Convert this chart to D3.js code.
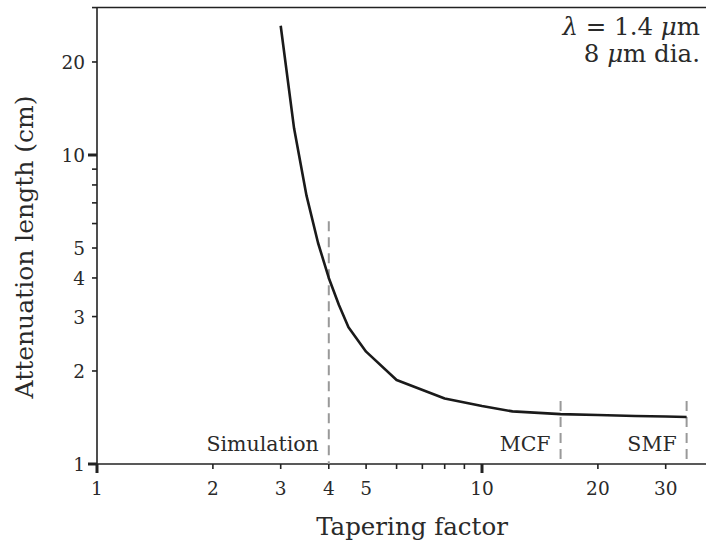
<!DOCTYPE html>
<html>
<head>
<meta charset="utf-8">
<script src="https://cdn.jsdelivr.net/npm/d3@7"></script>
<style>
  body { margin: 0; background: #fff; }
  svg text { font-family: "DejaVu Serif", serif; fill: #2a2a2a; }
</style>
</head>
<body>
<div id="chart"></div>
<script>
// Tapering factor vs attenuation length
const taper = [3, 3.25, 3.5, 3.75, 4, 4.25, 4.5, 5, 6, 8, 10, 12, 16, 20, 25, 30, 34];
const attenuation = [26.2, 12.2, 7.4, 5.2, 4.0, 3.27, 2.77, 2.31, 1.87, 1.63, 1.54, 1.48, 1.45, 1.44, 1.43, 1.425, 1.42];

// Vertical markers
const markerX = [4, 16, 34];
const markerTop = [6.1, 1.6, 1.6];
const markerLabel = ["Simulation", "MCF", "SMF"];

const xTickValues = [1, 2, 3, 4, 5, 6, 7, 8, 9, 10, 20, 30];
const xTickLabels = [1, 2, 3, 4, 5, 10, 20, 30];
const yTickValues = [1, 2, 3, 4, 5, 6, 7, 8, 9, 10, 20, 30];
const yTickLabels = [1, 2, 3, 4, 5, 10, 20];
const majorTicks = [1, 10];

const width = 706, height = 544;

const x = d3.scaleLog().domain([1, 10]).range([97, 482]);
const y = d3.scaleLog().domain([1, 10]).range([464, 155]);
const xEnd = x(40);
const yTop = y(30);

const svg = d3.select("#chart").append("svg")
  .attr("width", width)
  .attr("height", height);

const ink = "#222";

// spines
svg.append("line").attr("x1", x(1)).attr("x2", xEnd).attr("y1", y(1)).attr("y2", y(1))
  .attr("stroke", ink).attr("stroke-width", 1.6);
svg.append("line").attr("x1", x(1)).attr("x2", x(1)).attr("y1", y(1)).attr("y2", yTop)
  .attr("stroke", ink).attr("stroke-width", 1.6);
svg.append("line").attr("x1", x(1)).attr("x2", xEnd).attr("y1", yTop).attr("y2", yTop)
  .attr("stroke", ink).attr("stroke-width", 1.6);

// x ticks
svg.selectAll(".xt").data(xTickValues).enter().append("line")
  .attr("x1", d => x(d)).attr("x2", d => x(d))
  .attr("y1", y(1))
  .attr("y2", d => y(1) + (majorTicks.includes(d) ? 9 : 5))
  .attr("stroke", ink)
  .attr("stroke-width", d => majorTicks.includes(d) ? 3 : 1.6);

svg.selectAll(".xl").data(xTickLabels).enter().append("text")
  .attr("x", d => x(d)).attr("y", 495)
  .attr("text-anchor", "middle")
  .attr("font-size", 18.5)
  .text(d => d);

// y ticks
svg.selectAll(".yt").data(yTickValues).enter().append("line")
  .attr("x1", x(1))
  .attr("x2", d => x(1) - (majorTicks.includes(d) ? 9 : 5))
  .attr("y1", d => y(d)).attr("y2", d => y(d))
  .attr("stroke", ink)
  .attr("stroke-width", d => majorTicks.includes(d) ? 3 : 1.6);

svg.selectAll(".yl").data(yTickLabels).enter().append("text")
  .attr("x", 85).attr("y", d => y(d) + 7)
  .attr("text-anchor", "end")
  .attr("font-size", 18.5)
  .text(d => d);

// axis titles
svg.append("text")
  .attr("x", 412).attr("y", 535)
  .attr("text-anchor", "middle")
  .attr("font-size", 24.5)
  .text("Tapering factor");

svg.append("text")
  .attr("transform", "translate(33,247) rotate(-90)")
  .attr("text-anchor", "middle")
  .attr("font-size", 25)
  .text("Attenuation length (cm)");

// dashed markers
svg.selectAll(".mk").data(markerX).enter().append("line")
  .attr("x1", d => x(d)).attr("x2", d => x(d))
  .attr("y1", (d, i) => y(markerTop[i])).attr("y2", y(1))
  .attr("stroke", "#999")
  .attr("stroke-width", 2)
  .attr("stroke-dasharray", "10,6");

svg.selectAll(".ml").data(markerLabel).enter().append("text")
  .attr("x", (d, i) => x(markerX[i]) - 10)
  .attr("y", 451)
  .attr("text-anchor", "end")
  .attr("font-size", 20.5)
  .text(d => d);

// curve
const line = d3.line()
  .x(d => x(d[0]))
  .y(d => y(d[1]));

svg.append("path")
  .datum(taper.map((t, i) => [t, attenuation[i]]))
  .attr("d", line)
  .attr("fill", "none")
  .attr("stroke", "#1a1a1a")
  .attr("stroke-width", 2.6)
  .attr("stroke-linejoin", "round");

// annotation
const note1 = svg.append("text").attr("x", 700).attr("y", 35)
  .attr("text-anchor", "end").attr("font-size", 24.5);
note1.append("tspan").attr("font-style", "italic").text("λ");
note1.append("tspan").text(" = 1.4 ");
note1.append("tspan").attr("font-style", "italic").text("μ");
note1.append("tspan").text("m");

const note2 = svg.append("text").attr("x", 700).attr("y", 62)
  .attr("text-anchor", "end").attr("font-size", 24.5);
note2.append("tspan").text("8 ");
note2.append("tspan").attr("font-style", "italic").text("μ");
note2.append("tspan").text("m dia.");
</script>
</body>
</html>
